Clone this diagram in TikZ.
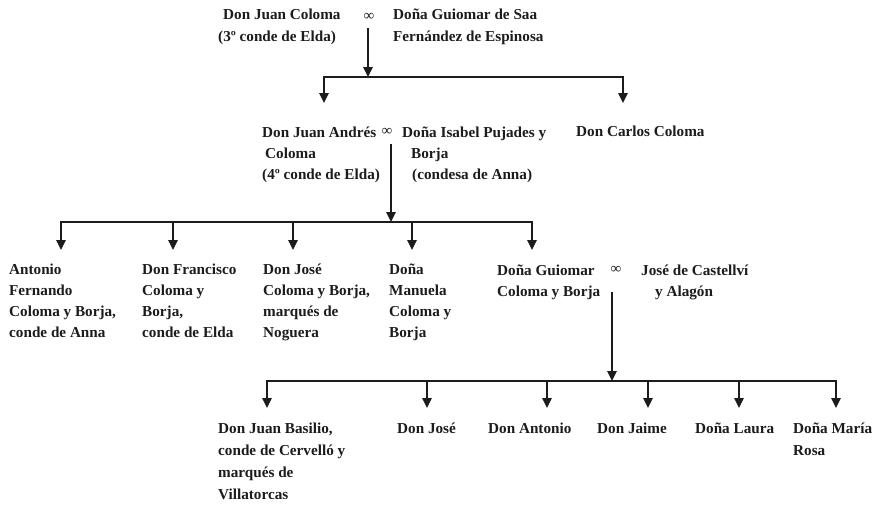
\documentclass[tikz,border=0pt]{standalone}
\usepackage{fontspec}
\setmainfont{Liberation Serif}
\usetikzlibrary{arrows.meta}
\definecolor{ink}{HTML}{1C1C1C}
\begin{document}
\begin{tikzpicture}[x=1pt,y=-1pt,
  person/.style={font=\bfseries\fontsize{15.2}{21}\selectfont, align=left, anchor=base west, inner sep=0pt, text=ink},
  person4/.style={person, font=\bfseries\fontsize{15.2}{22}\selectfont},
  marr/.style={font=\fontsize{15}{15}\selectfont, inner sep=0pt, text=ink},
  arr/.style={draw=ink, line width=1.4pt, -{Triangle[length=10pt,width=9.5pt]}},
  ln/.style={draw=ink, line width=1.4pt, line cap=rect}]
\useasboundingbox (0,0) rectangle (881,506);
\fill[white] (0,0) rectangle (881,506);

% (anchor = baseline of the last line)
% generation 1
\node[person] (jc) at (218,41) {\hspace*{5pt}Don Juan Coloma\\(3º conde de Elda)};
\node[marr] (m1) at (369,17) {∞};
\node[person] (gs) at (393,41) {Doña Guiomar de Saa\\Fernández de Espinosa};

% generation 2
\node[person] (ja) at (262,179) {Don Juan Andrés\\\hspace*{3pt}Coloma\\(4º conde de Elda)};
\node[marr] (m2) at (387,132) {∞};
\node[person] (ip) at (402,179) {Doña Isabel Pujades y\\\hspace*{9pt}Borja\\\hspace*{10pt}(condesa de Anna)};
\node[person] (cc) at (576,136) {Don Carlos Coloma};

% generation 3
\node[person] (af) at (9,337) {Antonio\\Fernando\\Coloma y Borja,\\conde de Anna};
\node[person] (fc) at (142,337) {Don Francisco\\Coloma y\\Borja,\\conde de Elda};
\node[person] (jo) at (263,337) {Don José\\Coloma y Borja,\\marqués de\\Noguera};
\node[person] (ma) at (389,337) {Doña\\Manuela\\Coloma y\\Borja};
\node[person] (gc) at (497,296) {Doña Guiomar\\Coloma y Borja};
\node[marr] (m3) at (616,270) {∞};
\node[person] (jca) at (641,296) {José de Castellví\\\hspace*{14pt}y Alagón};

% generation 4
\node[person4] (jb) at (218,499) {Don Juan Basilio,\\conde de Cervelló y\\marqués de\\Villatorcas};
\node[person4] (dj) at (397,433) {Don José};
\node[person4] (da) at (488,433) {Don Antonio};
\node[person4] (dja) at (597,433) {Don Jaime};
\node[person4] (dl) at (695,433) {Doña Laura};
\node[person4] (dm) at (793,455) {Doña María\\Rosa};

% connector points
\coordinate (s1) at (368,28);  \coordinate (b1) at (368,77);
\coordinate (ja-in) at (324,103); \coordinate (cc-in) at (623,103);
\coordinate (s2) at (391,144); \coordinate (b2) at (391,222);
\coordinate (af-in) at (61,250); \coordinate (fc-in) at (173,250);
\coordinate (jo-in) at (293,250); \coordinate (ma-in) at (412,250);
\coordinate (gc-in) at (532,250);
\coordinate (s3) at (612,292); \coordinate (b3) at (612,381);
\coordinate (jb-in) at (267,408); \coordinate (dj-in) at (427,408);
\coordinate (da-in) at (547,408); \coordinate (dja-in) at (648,408);
\coordinate (dl-in) at (739,408); \coordinate (dm-in) at (836,408);

% generation 1 -> 2
\draw[arr] (s1) -- (b1);
\draw[ln] (ja-in |- b1) -- (cc-in |- b1);
\draw[arr] (ja-in |- b1) -- (ja-in);
\draw[arr] (cc-in |- b1) -- (cc-in);

% generation 2 -> 3
\draw[arr] (s2) -- (b2);
\draw[ln] (af-in |- b2) -- (gc-in |- b2);
\foreach \c in {af,fc,jo,ma,gc} \draw[arr] (\c-in |- b2) -- (\c-in);

% generation 3 -> 4
\draw[arr] (s3) -- (b3);
\draw[ln] (jb-in |- b3) -- (dm-in |- b3);
\foreach \c in {jb,dj,da,dja,dl,dm} \draw[arr] (\c-in |- b3) -- (\c-in);
\end{tikzpicture}
\end{document}
